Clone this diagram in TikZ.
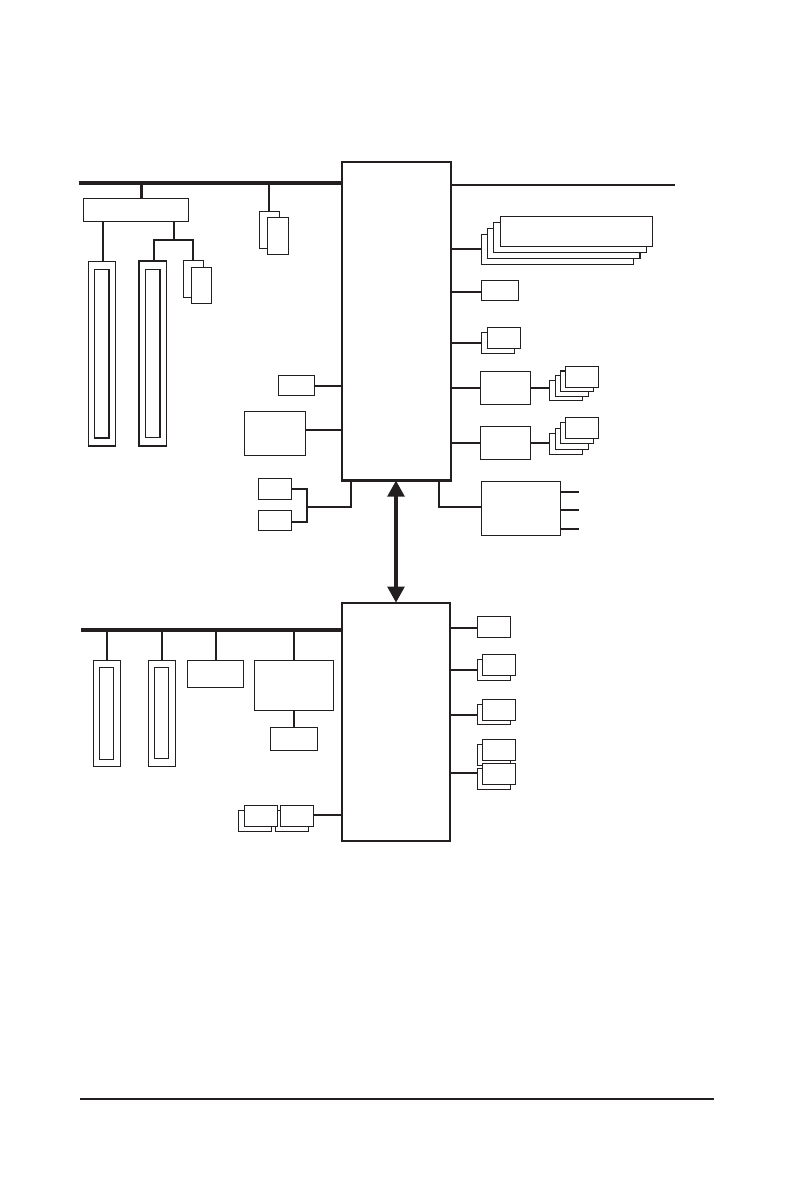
\documentclass[tikz,border=0pt]{standalone}
\usetikzlibrary{arrows.meta}
\definecolor{ink}{HTML}{231F20}
\newcommand\bx[6][]{%
  \pgfmathsetmacro\bxw{(#5-#3)*0.75}\pgfmathsetmacro\bxh{(#6-#4)*0.75}%
  \node[box,minimum width=\bxw pt,minimum height=\bxh pt,#1] (#2) at ({(#3+#5)/2},{(#4+#6)/2}) {};}
% horizontal connector at height y, from a.east to b.west
\newcommand\hc[4][lnk]{\draw[#1] (#2 |- 0,#4) -- (#3 |- 0,#4);}
% vertical connector at abscissa x
\newcommand\vc[4][lnk]{\draw[#1] (#4,0 |- #2) -- (#4,0 |- #3);}
\begin{document}
\begin{tikzpicture}[x=0.75pt,y=-0.75pt,
  box/.style={draw=ink,fill=white,line width=0.95pt,inner sep=0pt,outer sep=0pt},
  chip/.style={box,line width=1.6pt},
  lnk/.style={draw=ink,line width=1.5pt},
  bus/.style={draw=ink,line width=3pt},
  heavy/.style={draw=ink,line width=1.5pt,line cap=butt,line join=miter}]
\useasboundingbox (0,0) rectangle (794,1179);

% ---- main chips
\bx[chip]{north}{342}{162}{451}{480.5}
\bx[chip]{south}{342}{602.7}{450}{841}

% ---- upper bus
\coordinate (ubusL) at (79,183);
\coordinate (ubusR) at (342,183);
\coordinate (rbusR) at (675,185);
\draw[bus] (ubusL) -- (ubusR);
\draw[lnk] (north.east |- rbusR) -- (rbusR);

% ---- top left
\bx{bridge}{83.3}{198.3}{188.3}{221.3}
\vc[draw=ink,line width=2.2pt]{ubusL}{bridge.north}{141.3}
\bx{slotA}{88.3}{261.3}{115.3}{446}
\bx{slotAi}{94.3}{269.3}{109.3}{438.3}
\bx{slotB}{139}{260.7}{166.3}{446}
\bx{slotBi}{145.3}{269.3}{160.3}{437.3}
\draw[heavy] (slotA.south west) -- (slotA.south east);
\draw[heavy] (slotAi.north east) -- (slotAi.south east) -- (slotAi.south west);
\draw[heavy] (slotB.south west) -- (slotB.north west) -- (slotB.north east);
\draw[heavy] (slotBi.north east) -- (slotBi.south east);
\vc{bridge.south}{slotA.north}{103}
\coordinate (fork) at (173.7,240);
\vc{bridge.south}{fork}{173.7}
\bx{dA}{183.3}{260.3}{203.3}{297.7}
\bx{dB}{191.3}{267.3}{211.7}{303.3}
\draw[lnk,line join=miter] (153.7,0 |- slotB.north) -- (153.7,0 |- fork) -- (192.7,0 |- fork) -- (192.7,0 |- dA.north);

\bx{eA}{259.3}{211.3}{279.7}{248.7}
\bx{eB}{267.3}{217.3}{288.3}{254.3}
\vc{ubusL}{eA.north}{269}

\bx{fA}{278.3}{375.3}{314.3}{395.7}
\hc{fA.east}{north.west}{386}
\bx{fB}{244.3}{411.3}{305.7}{455.3}
\hc{fB.east}{north.west}{430}

% ---- under the north chip, left
\bx{gA}{258.3}{478.3}{291.7}{499.3}
\bx{gB}{258.3}{510.3}{291.7}{530.3}
\coordinate (gJ) at (307.3,507);
\draw[lnk,line join=miter] (gA.east |- 0,489) -- (gJ |- 0,489) -- (gJ |- 0,522) -- (gB.east |- 0,522);
\draw[lnk,line join=miter] (gJ) -- (351,0 |- gJ) -- (351,0 |- north.south);

% ---- north chip, right side
\bx{rA4}{481.3}{234.3}{633.7}{264.3}
\bx{rA3}{487.3}{228.3}{640}{258.3}
\bx{rA2}{493.3}{222.3}{646.3}{252.3}
\bx{rA1}{500.3}{216.3}{652.3}{246.3}
\hc{north.east}{rA4.west}{249}
\bx{rB}{481.3}{280.3}{518.3}{300.3}
\hc{north.east}{rB.west}{292}
\bx{rC2}{481.3}{332.3}{514.7}{353.3}
\bx{rC1}{487.3}{327.3}{520.3}{348.3}
\hc{north.east}{rC2.west}{343}

\bx{rD}{480.3}{371.3}{530.3}{404.3}
\hc{north.east}{rD.west}{388}
\bx{rD4}{549.3}{380.3}{582.7}{400.3}
\bx{rD3}{555.3}{375.3}{588.7}{396.7}
\bx{rD2}{560.3}{371}{593.7}{391.7}
\bx{rD1}{565.3}{366.3}{598.3}{387.3}
\hc{rD.east}{rD4.west}{388}

\bx{rE}{480.3}{426.3}{530.3}{459.3}
\hc{north.east}{rE.west}{443}
\bx{rE4}{549.3}{433.3}{582.7}{454.3}
\bx{rE3}{555.3}{428.3}{588.7}{449.3}
\bx{rE2}{560.3}{422.3}{593.7}{443.3}
\bx{rE1}{565.3}{417.3}{598.3}{438.3}
\hc{rE.east}{rE4.west}{443}

\bx{rF}{481.3}{481.3}{560.3}{535.3}
\draw[lnk,line join=miter] (439,0 |- north.south) -- (439,507) -- (rF.west |- 0,507);
\coordinate (o1) at (579,492);
\coordinate (o2) at (579,510);
\coordinate (o3) at (579,529);
\draw[lnk] (rF.east |- o1) -- (o1);
\draw[lnk] (rF.east |- o2) -- (o2);
\draw[lnk] (rF.east |- o3) -- (o3);

% ---- link between chips
\draw[draw=ink,fill=ink,line width=2.7pt,{Triangle[width=12.4pt,length=12pt]}-{Triangle[width=12.4pt,length=12pt]}]
  (396,0 |- north.south) -- (396,0 |- south.north);

% ---- lower bus
\coordinate (lbusL) at (81,630);
\coordinate (lbusR) at (342,630);
\draw[bus] (lbusL) -- (lbusR);
\bx{sA}{93.3}{660.3}{120.7}{766.3}
\bx{sAi}{99.3}{667.3}{113.7}{759.3}
\bx{sB}{148.3}{660.3}{175.7}{766.3}
\bx{sBi}{154.3}{667.3}{168.7}{758.3}
\bx{sC}{187.3}{660.3}{243.7}{687.3}
\bx{sD}{254.3}{660.3}{333.7}{710.3}
\bx{sE}{270.3}{727.3}{317.7}{750.3}
\vc{lbusL}{sA.north}{107}
\vc{lbusL}{sB.north}{162}
\vc{lbusL}{sC.north}{216}
\vc{lbusL}{sD.north}{294}
\vc{sD.south}{sE.north}{294}

\bx{tA2}{238.3}{810.3}{271.7}{831.3}
\bx{tB2}{275.3}{810.3}{308.7}{831.3}
\bx{tA1}{244.3}{805.3}{277.3}{826.3}
\bx{tB1}{280.3}{805.3}{313.3}{826.3}
\hc{tB1.east}{south.west}{815}

% ---- south chip, right side
\bx{uA}{477.3}{616.3}{510.3}{637.3}
\hc{south.east}{uA.west}{628}
\bx{uB2}{477.3}{659.3}{510.3}{680.3}
\bx{uB1}{482.3}{654.3}{515.3}{675.3}
\hc{south.east}{uB2.west}{670}
\bx{uC2}{477.3}{704.3}{510.3}{724.7}
\bx{uC1}{482.3}{699.3}{515.3}{720.3}
\hc{south.east}{uC2.west}{715}
\bx{uD2}{477.3}{744.3}{510.3}{765.3}
\bx{uD1}{482.3}{739.3}{515.3}{760.3}
\bx{uE2}{477.3}{768.3}{510.3}{789.3}
\bx{uE1}{482.3}{763.3}{515.3}{784.3}
\hc{south.east}{uE2.west}{773}

% ---- page rule
\coordinate (ruleL) at (80,1099);
\coordinate (ruleR) at (714,1099);
\draw[lnk] (ruleL) -- (ruleR);
\end{tikzpicture}
\end{document}
